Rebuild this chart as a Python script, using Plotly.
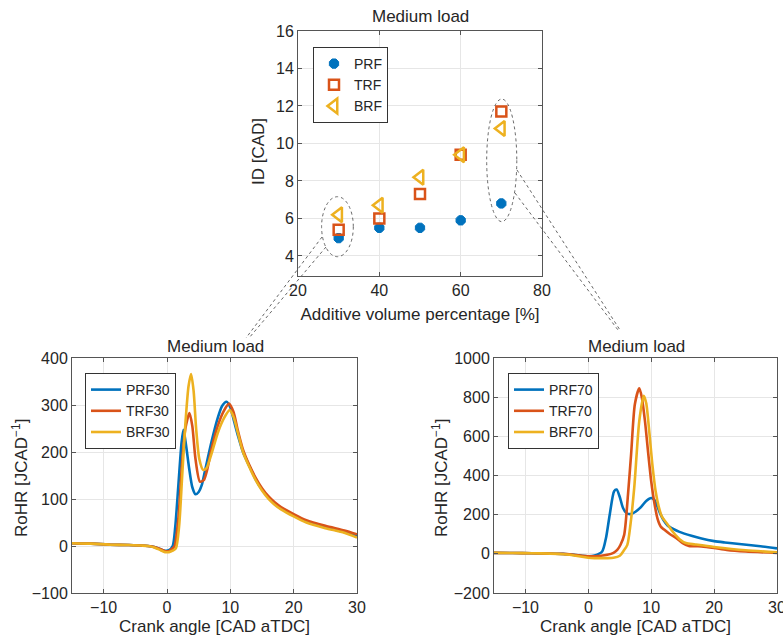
import plotly.graph_objects as go

# ---------------- Data ----------------
vol_pct = [30, 40, 50, 60, 70]
id_prf = [4.95, 5.5, 5.5, 5.9, 6.8]
id_trf = [5.4, 6.0, 7.3, 9.4, 11.7]
id_brf = [6.2, 6.7, 8.2, 9.4, 10.8]

prf30_x = [-15, -12, -9, -6, -4, -3, -2, -1, -0.3, 0.3, 0.9, 1.3, 1.8, 2.3, 2.6, 3.0, 3.5, 4.0, 4.5, 5.0, 5.5, 6.0, 7.0, 8.0, 8.7, 9.4, 10.0, 10.6, 11.2, 12, 13, 14, 15, 16, 17, 18, 20, 22, 25, 28, 30]
prf30_y = [6, 5, 3, 2, 1, 0, -2, -7, -10, -9, 0, 40, 130, 220, 247, 215, 165, 125, 110, 115, 130, 160, 220, 272, 298, 307, 295, 265, 235, 200, 170, 142, 120, 103, 90, 80, 65, 52, 40, 30, 22]

trf30_x = [-15, -12, -9, -6, -4, -3, -2, -1, -0.3, 0.3, 0.8, 1.2, 1.8, 2.4, 2.9, 3.55, 4.0, 4.5, 5.2, 5.8, 6.3, 7.0, 8.0, 9.0, 9.8, 10.5, 11.2, 12, 13, 14, 15, 16, 17, 18, 20, 22, 25, 28, 30]
trf30_y = [6, 5, 3, 2, 1, 0, -2, -7, -11, -11, -6, 0, 60, 180, 250, 283, 255, 185, 137, 140, 160, 205, 255, 288, 303, 285, 245, 205, 172, 145, 123, 106, 93, 83, 68, 55, 43, 33, 25]

brf30_x = [-15, -12, -9, -6, -4, -3, -2, -1, -0.3, 0.3, 0.9, 1.4, 1.9, 2.4, 2.9, 3.4, 3.8, 4.2, 4.6, 5.1, 5.7, 6.2, 7.0, 8.0, 9.0, 9.9, 10.5, 11.2, 12, 13, 14, 15, 16, 17, 18, 20, 22, 25, 28, 30]
brf30_y = [6, 5, 3, 2, 1, 0, -3, -9, -13, -13, -10, -5, 40, 150, 260, 340, 366, 330, 250, 185, 162, 165, 195, 240, 272, 289, 275, 240, 200, 168, 140, 118, 101, 88, 78, 63, 50, 38, 28, 18]

prf70_x = [-15, -12, -9, -6, -4, -3, -2, -1, 0, 1, 2.2, 2.8, 3.4, 4.1, 4.5, 5.0, 5.5, 6.0, 6.8, 7.5, 8.4, 9.2, 10.0, 10.5, 11, 11.5, 12, 12.6, 13.5, 14.5, 16.4, 18, 20, 21.7, 24, 27, 30]
prf70_y = [5, 4, 3, 1, 0, -3, -6, -10, -12, -8, 12, 80, 200, 320, 328, 290, 235, 210, 203, 215, 240, 270, 285, 275, 240, 200, 170, 145, 127, 112, 92, 78, 65, 58, 50, 40, 28]

trf70_x = [-15, -12, -9, -6, -4, -3, -2, -1, 0, 1, 2, 3, 4, 4.6, 5.1, 5.7, 6.3, 6.8, 7.4, 8.1, 8.5, 9.0, 9.5, 10.0, 10.5, 11.0, 11.5, 12.0, 13.0, 14.0, 15.0, 16.0, 18, 20, 22, 25, 30]
trf70_y = [5, 4, 3, 1, 0, -2, -6, -10, -12, -12, -10, -5, 5, 20, 45, 97, 300, 508, 764, 845, 800, 680, 520, 370, 260, 180, 140, 125, 100, 80, 55, 40, 38, 30, 20, 12, 5]

brf70_x = [-15, -12, -9, -6, -4, -3, -2, -1, 0, 1, 2, 3, 4, 5, 5.6, 6.2, 6.7, 7.3, 8.1, 8.8, 9.2, 9.7, 10.2, 10.7, 11.2, 11.7, 12.5, 13.5, 14.5, 15.5, 17, 20, 25, 30]
brf70_y = [5, 4, 3, 1, -2, -5, -10, -15, -20, -22, -22, -22, -20, -10, 15, 46, 150, 338, 678, 807, 770, 620, 450, 320, 240, 190, 155, 110, 75, 55, 48, 35, 18, 8]

# ---------------- Style ----------------
BLUE = "#0072BD"
RED = "#D95319"
YEL = "#EDB120"
FONT = "Liberation Sans, Arial, Helvetica, sans-serif"
TXT = "#262626"
W, H = 783, 638

fig = go.Figure()

# top scatter
fig.add_trace(go.Scatter(x=vol_pct, y=id_prf, mode="markers", name="PRF",
                         marker=dict(symbol="octagon", size=10, color=BLUE, line=dict(color=BLUE, width=1)),
                         xaxis="x", yaxis="y", legend="legend"))
fig.add_trace(go.Scatter(x=vol_pct, y=id_trf, mode="markers", name="TRF",
                         marker=dict(symbol="square-open", size=10, color=RED, line=dict(color=RED, width=2.5)),
                         xaxis="x", yaxis="y", legend="legend"))
fig.add_trace(go.Scatter(x=vol_pct, y=id_brf, mode="markers", name="BRF",
                         marker=dict(symbol="triangle-left-open", size=13, color=YEL, line=dict(color=YEL, width=2.5)),
                         xaxis="x", yaxis="y", legend="legend"))

line_kw = dict(mode="lines", line_shape="spline")
for xs, ys, nm, c in [(prf30_x, prf30_y, "PRF30", BLUE), (trf30_x, trf30_y, "TRF30", RED), (brf30_x, brf30_y, "BRF30", YEL)]:
    fig.add_trace(go.Scatter(x=xs, y=ys, name=nm, line=dict(color=c, width=2.6, smoothing=0.7),
                             xaxis="x2", yaxis="y2", legend="legend2", **line_kw))
for xs, ys, nm, c in [(prf70_x, prf70_y, "PRF70", BLUE), (trf70_x, trf70_y, "TRF70", RED), (brf70_x, brf70_y, "BRF70", YEL)]:
    fig.add_trace(go.Scatter(x=xs, y=ys, name=nm, line=dict(color=c, width=2.6, smoothing=0.7),
                             xaxis="x3", yaxis="y3", legend="legend3", **line_kw))

def px_x(p):
    return p / W

def px_y(p):
    return 1 - p / H

axis_common = dict(showgrid=True, gridcolor="#E6E6E6", gridwidth=1, zeroline=False,
                   showline=True, linecolor="#555555", linewidth=1, mirror="ticks",
                   ticks="inside", ticklen=4, tickcolor="#555555",
                   tickfont=dict(family=FONT, size=16, color=TXT))

title_font = dict(family=FONT, size=17, color=TXT)
leg_common = dict(xanchor="left", yanchor="top", bgcolor="white", bordercolor="#333333", borderwidth=1,
                  font=dict(family=FONT, size=14, color=TXT), tracegroupgap=0)

fig.update_layout(
    width=W, height=H, margin=dict(l=0, r=0, t=0, b=0, autoexpand=False),
    paper_bgcolor="white", plot_bgcolor="white",
    font=dict(family=FONT, color=TXT),
    xaxis=dict(domain=[px_x(298), px_x(542)], anchor="y", range=[20, 80], tickvals=[20, 40, 60, 80],
               title=dict(text="Additive volume percentage [%]", font=title_font, standoff=9), **axis_common),
    yaxis=dict(domain=[px_y(276), px_y(31)], anchor="x", range=[2.93, 16], tickvals=[4, 6, 8, 10, 12, 14, 16],
               **axis_common),
    xaxis2=dict(domain=[px_x(72), px_x(357)], anchor="y2", range=[-15, 30], tickvals=[-10, 0, 10, 20, 30],
                title=dict(text="Crank angle [CAD aTDC]", font=title_font, standoff=4), **axis_common),
    yaxis2=dict(domain=[px_y(593), px_y(358)], anchor="x2", range=[-100, 400], tickvals=[-100, 0, 100, 200, 300, 400],
                **axis_common),
    xaxis3=dict(domain=[px_x(494), px_x(777)], anchor="y3", range=[-15, 30], tickvals=[-10, 0, 10, 20, 30],
                ticklabeloverflow="allow",
                title=dict(text="Crank angle [CAD aTDC]", font=title_font, standoff=4), **axis_common),
    yaxis3=dict(domain=[px_y(593), px_y(358)], anchor="x3", range=[-200, 1000], tickvals=[-200, 0, 200, 400, 600, 800, 1000],
                **axis_common),
    legend=dict(x=px_x(313), y=px_y(47), **leg_common),
    legend2=dict(x=px_x(85), y=px_y(373), **leg_common),
    legend3=dict(x=px_x(508), y=px_y(373), **leg_common),
    showlegend=True,
)

# subplot titles
for cx, cy in [(420, 17), (215, 346), (636, 346)]:
    fig.add_annotation(text="Medium load", x=px_x(cx), y=px_y(cy), xref="paper", yref="paper",
                       showarrow=False, font=dict(family=FONT, size=17, color=TXT),
                       xanchor="center", yanchor="middle")

# y-axis titles
for txt, cx, cy in [("ID [CAD]", 258, 152), ("RoHR [JCAD<sup>−1</sup>]", 20, 478), ("RoHR [JCAD<sup>−1</sup>]", 440, 478)]:
    fig.add_annotation(text=txt, x=px_x(cx), y=px_y(cy), xref="paper", yref="paper", textangle=-90,
                       showarrow=False, font=title_font, xanchor="center", yanchor="middle")

# callout ellipses (decoration on the top axes)
dot = dict(color="#666666", width=1, dash="dot")
fig.add_shape(type="circle", xref="x", yref="y", x0=25.8, x1=33.6, y0=3.96, y1=7.16, line=dot)
fig.add_shape(type="circle", xref="x", yref="y", x0=66.4, x1=73.8, y0=5.83, y1=12.37, line=dot)

# connector lines (paper coordinates)
for (x0, y0, x1, y1) in [(322, 237, 246, 338), (326, 247, 249, 338), (517, 170, 620, 330), (515, 193, 618, 330)]:
    fig.add_shape(type="line", xref="paper", yref="paper", x0=px_x(x0), y0=px_y(y0), x1=px_x(x1), y1=px_y(y1), line=dot)

fig.write_html("out.html", config={"displayModeBar": False},
               post_script="document.body.style.margin='0';document.body.style.padding='0';document.body.style.overflow='hidden';")
